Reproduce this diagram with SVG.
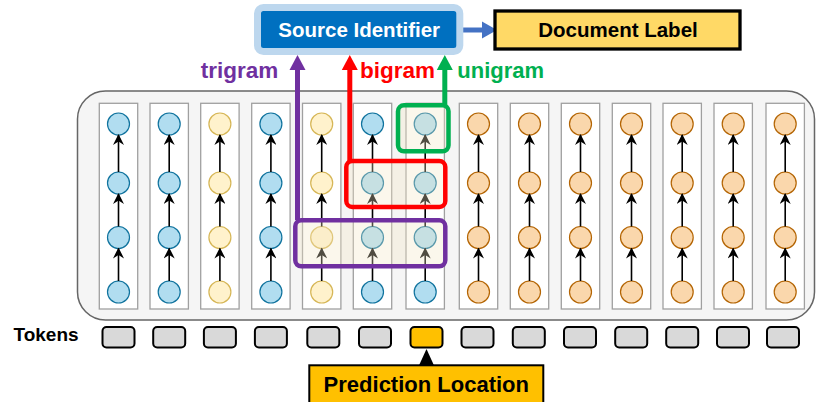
<svg xmlns="http://www.w3.org/2000/svg" width="817" height="402" viewBox="0 0 817 402">
<style>
.t{font-family:"Liberation Sans",Arial,sans-serif;font-weight:bold}
.col{fill:#ffffff;stroke:#a0a0a0;stroke-width:1.3}
.b{fill:#b1ddf0;stroke:#10739e;stroke-width:1.2}
.y{fill:#fff2cc;stroke:#d6b656;stroke-width:1.2}
.o{fill:#fad7ac;stroke:#b46504;stroke-width:1.2}
.a line{stroke:#000;stroke-width:1.6;fill:none;marker-end:url(#ah)}
.tok{fill:#d9d9d9;stroke:#000;stroke-width:2}
.ov{fill:#f2e8c4;opacity:0.33}
.hb{fill:none;stroke-width:4.5}
</style>
<defs>
<marker id="ah" viewBox="0 0 10 10" refX="9" refY="5" markerWidth="12" markerHeight="11" markerUnits="userSpaceOnUse" orient="auto">
<path d="M0,0 L10,5 L0,10 L3,5 Z" fill="#000"/>
</marker>
</defs>

<g id="container">
<rect x="77.5" y="91" width="737" height="229" rx="28" fill="#f5f5f5" stroke="#666" stroke-width="1.5"/>
</g>

<g id="col0"><rect class="col" x="99.3" y="103.3" width="38.4" height="205.7"/><circle class="b" cx="118.5" cy="124" r="11"/><circle class="b" cx="118.5" cy="183" r="11"/><circle class="b" cx="118.5" cy="237.5" r="11"/><circle class="b" cx="118.5" cy="292" r="11"/></g>
<g id="col1"><rect class="col" x="150" y="103.3" width="38.4" height="205.7"/><circle class="b" cx="169.2" cy="124" r="11"/><circle class="b" cx="169.2" cy="183" r="11"/><circle class="b" cx="169.2" cy="237.5" r="11"/><circle class="b" cx="169.2" cy="292" r="11"/></g>
<g id="col2"><rect class="col" x="200.7" y="103.3" width="38.4" height="205.7"/><circle class="y" cx="219.9" cy="124" r="11"/><circle class="y" cx="219.9" cy="183" r="11"/><circle class="y" cx="219.9" cy="237.5" r="11"/><circle class="y" cx="219.9" cy="292" r="11"/></g>
<g id="col3"><rect class="col" x="251.7" y="103.3" width="38.4" height="205.7"/><circle class="b" cx="270.9" cy="124" r="11"/><circle class="b" cx="270.9" cy="183" r="11"/><circle class="b" cx="270.9" cy="237.5" r="11"/><circle class="b" cx="270.9" cy="292" r="11"/></g>
<g id="col4"><rect class="col" x="302.5" y="103.3" width="38.4" height="205.7"/><circle class="y" cx="321.7" cy="124" r="11"/><circle class="y" cx="321.7" cy="183" r="11"/><circle class="y" cx="321.7" cy="237.5" r="11"/><circle class="y" cx="321.7" cy="292" r="11"/></g>
<g id="col5"><rect class="col" x="353.3" y="103.3" width="38.4" height="205.7"/><circle class="b" cx="372.5" cy="124" r="11"/><circle class="b" cx="372.5" cy="183" r="11"/><circle class="b" cx="372.5" cy="237.5" r="11"/><circle class="b" cx="372.5" cy="292" r="11"/></g>
<g id="col6"><rect class="col" x="406" y="103.3" width="38.4" height="205.7"/><circle class="b" cx="425.2" cy="124" r="11"/><circle class="b" cx="425.2" cy="183" r="11"/><circle class="b" cx="425.2" cy="237.5" r="11"/><circle class="b" cx="425.2" cy="292" r="11"/></g>
<g id="col7"><rect class="col" x="459.3" y="103.3" width="38.4" height="205.7"/><circle class="o" cx="478.5" cy="124" r="11"/><circle class="o" cx="478.5" cy="183" r="11"/><circle class="o" cx="478.5" cy="237.5" r="11"/><circle class="o" cx="478.5" cy="292" r="11"/></g>
<g id="col8"><rect class="col" x="510.3" y="103.3" width="38.4" height="205.7"/><circle class="o" cx="529.5" cy="124" r="11"/><circle class="o" cx="529.5" cy="183" r="11"/><circle class="o" cx="529.5" cy="237.5" r="11"/><circle class="o" cx="529.5" cy="292" r="11"/></g>
<g id="col9"><rect class="col" x="561.3" y="103.3" width="38.4" height="205.7"/><circle class="o" cx="580.5" cy="124" r="11"/><circle class="o" cx="580.5" cy="183" r="11"/><circle class="o" cx="580.5" cy="237.5" r="11"/><circle class="o" cx="580.5" cy="292" r="11"/></g>
<g id="col10"><rect class="col" x="612.3" y="103.3" width="38.4" height="205.7"/><circle class="o" cx="631.5" cy="124" r="11"/><circle class="o" cx="631.5" cy="183" r="11"/><circle class="o" cx="631.5" cy="237.5" r="11"/><circle class="o" cx="631.5" cy="292" r="11"/></g>
<g id="col11"><rect class="col" x="663" y="103.3" width="38.4" height="205.7"/><circle class="o" cx="682.2" cy="124" r="11"/><circle class="o" cx="682.2" cy="183" r="11"/><circle class="o" cx="682.2" cy="237.5" r="11"/><circle class="o" cx="682.2" cy="292" r="11"/></g>
<g id="col12"><rect class="col" x="714" y="103.3" width="38.4" height="205.7"/><circle class="o" cx="733.2" cy="124" r="11"/><circle class="o" cx="733.2" cy="183" r="11"/><circle class="o" cx="733.2" cy="237.5" r="11"/><circle class="o" cx="733.2" cy="292" r="11"/></g>
<g id="col13"><rect class="col" x="766" y="103.3" width="38.4" height="205.7"/><circle class="o" cx="785.2" cy="124" r="11"/><circle class="o" cx="785.2" cy="183" r="11"/><circle class="o" cx="785.2" cy="237.5" r="11"/><circle class="o" cx="785.2" cy="292" r="11"/></g>

<g id="connectors">
<g class="a">
<line x1="118.5" y1="281" x2="118.5" y2="248.5"/><line x1="118.5" y1="226.5" x2="118.5" y2="194"/><line x1="118.5" y1="172" x2="118.5" y2="135"/>
<line x1="169.2" y1="281" x2="169.2" y2="248.5"/><line x1="169.2" y1="226.5" x2="169.2" y2="194"/><line x1="169.2" y1="172" x2="169.2" y2="135"/>
<line x1="219.9" y1="281" x2="219.9" y2="248.5"/><line x1="219.9" y1="226.5" x2="219.9" y2="194"/><line x1="219.9" y1="172" x2="219.9" y2="135"/>
<line x1="270.9" y1="281" x2="270.9" y2="248.5"/><line x1="270.9" y1="226.5" x2="270.9" y2="194"/><line x1="270.9" y1="172" x2="270.9" y2="135"/>
<line x1="321.7" y1="281" x2="321.7" y2="248.5"/><line x1="321.7" y1="226.5" x2="321.7" y2="194"/><line x1="321.7" y1="172" x2="321.7" y2="135"/>
<line x1="372.5" y1="281" x2="372.5" y2="248.5"/><line x1="372.5" y1="226.5" x2="372.5" y2="194"/><line x1="372.5" y1="172" x2="372.5" y2="135"/>
<line x1="425.2" y1="281" x2="425.2" y2="248.5"/><line x1="425.2" y1="226.5" x2="425.2" y2="194"/><line x1="425.2" y1="172" x2="425.2" y2="135"/>
<line x1="478.5" y1="281" x2="478.5" y2="248.5"/><line x1="478.5" y1="226.5" x2="478.5" y2="194"/><line x1="478.5" y1="172" x2="478.5" y2="135"/>
<line x1="529.5" y1="281" x2="529.5" y2="248.5"/><line x1="529.5" y1="226.5" x2="529.5" y2="194"/><line x1="529.5" y1="172" x2="529.5" y2="135"/>
<line x1="580.5" y1="281" x2="580.5" y2="248.5"/><line x1="580.5" y1="226.5" x2="580.5" y2="194"/><line x1="580.5" y1="172" x2="580.5" y2="135"/>
<line x1="631.5" y1="281" x2="631.5" y2="248.5"/><line x1="631.5" y1="226.5" x2="631.5" y2="194"/><line x1="631.5" y1="172" x2="631.5" y2="135"/>
<line x1="682.2" y1="281" x2="682.2" y2="248.5"/><line x1="682.2" y1="226.5" x2="682.2" y2="194"/><line x1="682.2" y1="172" x2="682.2" y2="135"/>
<line x1="733.2" y1="281" x2="733.2" y2="248.5"/><line x1="733.2" y1="226.5" x2="733.2" y2="194"/><line x1="733.2" y1="172" x2="733.2" y2="135"/>
<line x1="785.2" y1="281" x2="785.2" y2="248.5"/><line x1="785.2" y1="226.5" x2="785.2" y2="194"/><line x1="785.2" y1="172" x2="785.2" y2="135"/>
</g>

<line x1="463" y1="30" x2="484" y2="30" stroke="#4472c4" stroke-width="5"/>
<path d="M482,21.5 L497,30 L482,38.5 Z" fill="#4472c4"/>

<line x1="297.5" y1="220" x2="297.5" y2="68" stroke="#7030a0" stroke-width="5"/>
<path d="M289.5,70 L297.5,55 L305.5,70 Z" fill="#7030a0"/>
<line x1="349.8" y1="161" x2="349.8" y2="68" stroke="#ff0000" stroke-width="5"/>
<path d="M341.8,70 L349.8,55 L357.8,70 Z" fill="#ff0000"/>
<line x1="444.8" y1="105" x2="444.8" y2="68" stroke="#00b050" stroke-width="5"/>
<path d="M436.8,70 L444.8,55 L452.8,70 Z" fill="#00b050"/>

<path d="M419.2,365 L426.5,349 L433.8,365 Z" fill="#000"/>
</g>

<g id="trigram-box">
<rect class="ov" x="295.3" y="220.3" width="150" height="46" rx="6"/>
<rect class="hb" x="295.3" y="220.3" width="150" height="46" rx="6" stroke="#7030a0"/>
</g>
<g id="bigram-box">
<rect class="ov" x="346.3" y="161" width="99" height="46" rx="6"/>
<rect class="hb" x="346.3" y="161" width="99" height="46" rx="6" stroke="#ff0000"/>
</g>
<g id="unigram-box">
<rect class="ov" x="398" y="105.3" width="50.5" height="46" rx="6"/>
<rect class="hb" x="398" y="105.3" width="50.5" height="46" rx="6" stroke="#00b050"/>
</g>

<g id="labels">
<text class="t" x="200.7" y="78.3" font-size="22.5" fill="#7030a0">trigram</text>
<text class="t" x="360" y="78.3" font-size="22.5" fill="#ff0000">bigram</text>
<text class="t" x="457.3" y="78.3" font-size="22" fill="#00b050">unigram</text>
</g>

<g id="source-identifier">
<rect x="257.5" y="7.5" width="202.3" height="44" rx="6" fill="#0070c0" stroke="#bdd7ee" stroke-width="7"/>
<text class="t" x="359.2" y="37.3" font-size="20.5" fill="#ffffff" text-anchor="middle">Source Identifier</text>
</g>

<g id="document-label">
<rect x="495" y="11" width="245" height="38" fill="#ffd966" stroke="#000" stroke-width="3.3"/>
<text class="t" x="618" y="36.7" font-size="20.5" fill="#000" text-anchor="middle">Document Label</text>
</g>

<g id="tokens">
<text class="t" x="13.5" y="341" font-size="19" fill="#000">Tokens</text>
<rect class="tok" x="102.5" y="327" width="32" height="20.5" rx="4"/>
<rect class="tok" x="153.2" y="327" width="32" height="20.5" rx="4"/>
<rect class="tok" x="203.9" y="327" width="32" height="20.5" rx="4"/>
<rect class="tok" x="254.9" y="327" width="32" height="20.5" rx="4"/>
<rect class="tok" x="307.3" y="327" width="32" height="20.5" rx="4"/>
<rect class="tok" x="359" y="327" width="32" height="20.5" rx="4"/>
<rect class="tok" x="410.5" y="327" width="32" height="20.5" rx="4" style="fill:#ffc000"/>
<rect class="tok" x="461.5" y="327" width="32" height="20.5" rx="4"/>
<rect class="tok" x="512.8" y="327" width="32" height="20.5" rx="4"/>
<rect class="tok" x="564" y="327" width="32" height="20.5" rx="4"/>
<rect class="tok" x="615.2" y="327" width="32" height="20.5" rx="4"/>
<rect class="tok" x="666.2" y="327" width="32" height="20.5" rx="4"/>
<rect class="tok" x="717" y="327" width="32" height="20.5" rx="4"/>
<rect class="tok" x="767" y="327" width="32" height="20.5" rx="4"/>
</g>

<g id="prediction-location">
<rect x="309.3" y="365.3" width="234" height="45" fill="#ffc000" stroke="#000" stroke-width="2"/>
<text class="t" x="426.3" y="392" font-size="22" fill="#000" text-anchor="middle">Prediction Location</text>
</g>
</svg>
